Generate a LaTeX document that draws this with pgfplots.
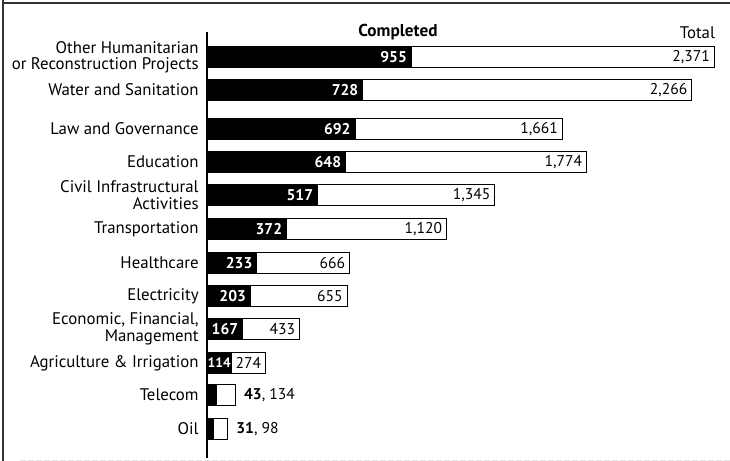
\documentclass[border=0pt]{standalone}
\usepackage{pgfplots}
\pgfplotsset{compat=1.18}
\usepackage{fontspec}
\setmainfont{PT Sans}
\begin{document}
\begin{tikzpicture}
\begin{axis}[
  at={(103.5pt,-229pt)}, anchor=south west,
  scale only axis,
  width=256.8pt, height=213pt,
  xbar, bar width=10.5pt, bar shift=0pt,
  xmin=0, xmax=2400,
  ymin=32, ymax=458,
  y dir=reverse,
  axis y line=left, axis x line=none,
  y axis line style={-, line width=1pt},
  ytick={57,90,129,162,195,229,263,296,329,363,395,429},
  yticklabels={{Other Humanitarian\\or Reconstruction Projects},{Water and Sanitation},{Law and Governance},{Education},{Civil Infrastructural\\Activities},{Transportation},{Healthcare},{Electricity},{Economic, Financial,\\Management},{Agriculture \& Irrigation},{Telecom},{Oil}},
  y tick label style={align=right, font=\fontsize{8.4}{8.2}\selectfont, inner sep=1pt},
  yticklabel style={xshift=-3pt},
  major tick length=0pt,
  clip=false,
]
\addplot[draw=black, fill=white, line width=0.5pt,
  point meta=explicit symbolic,
  nodes near coords,
  every node near coord/.append style={anchor=east, font=\fontsize{7.8}{7.8}\selectfont, xshift=-1pt, inner sep=1pt}]
coordinates {
(2371,57) [2,371]
(2266,90) [2,266]
(1661,129) [1,661]
(1774,162) [1,774]
(1345,195) [1,345]
(1120,229) [1,120]
(666,263) [666]
(655,296) [655]
(433,329) [433]
(274,363) [274]
(134,395) []
(98,429) []
};
\addplot[draw=black, fill=black, line width=0.5pt,
  point meta=explicit symbolic,
  nodes near coords,
  every node near coord/.append style={anchor=east, text=white, font=\bfseries\fontsize{7.8}{7.8}\selectfont, xshift=-1pt, inner sep=1pt}]
coordinates {
(955,57) [955]
(728,90) [728]
(692,129) [692]
(648,162) [648]
(517,195) [517]
(372,229) [372]
(233,263) [233]
(203,296) [203]
(167,329) [167]
(114,363) []
(43,395) []
(31,429) []
};
\addplot[draw=none, fill=none,
  point meta=explicit symbolic,
  nodes near coords,
  every node near coord/.append style={anchor=west, text=white, font=\bfseries\fontsize{6.8}{6.8}\selectfont, xshift=-0.2pt, inner sep=0.3pt}]
coordinates {
(0,363) [114]
};
\addplot[draw=none, fill=none,
  point meta=explicit symbolic,
  nodes near coords,
  every node near coord/.append style={anchor=west, font=\fontsize{7.8}{7.8}\selectfont, xshift=3pt, inner sep=1pt}]
coordinates {
(134,395) [\textbf{43}, 134]
(98,429) [\textbf{31}, 98]
};
\end{axis}
\node[font=\bfseries\fontsize{8.6}{8.6}\selectfont] at (199pt,-16pt) {Completed};
\node[font=\fontsize{8.4}{8.4}\selectfont, anchor=east] at (361pt,-16.5pt) {Total};
\draw[line width=0.6pt, black!80] (1.5pt,0) -- (1.5pt,-230.5pt);
\draw[line width=0.6pt, black!80] (1.5pt,-1.5pt) -- (365pt,-1.5pt);
\draw[line width=0.4pt, black!10, dash pattern=on 3pt off 1pt] (10pt,-230pt) -- (365pt,-230pt);
\pgfresetboundingbox
\useasboundingbox (0,0) rectangle (365pt,-230.5pt);
\end{tikzpicture}
\end{document}
